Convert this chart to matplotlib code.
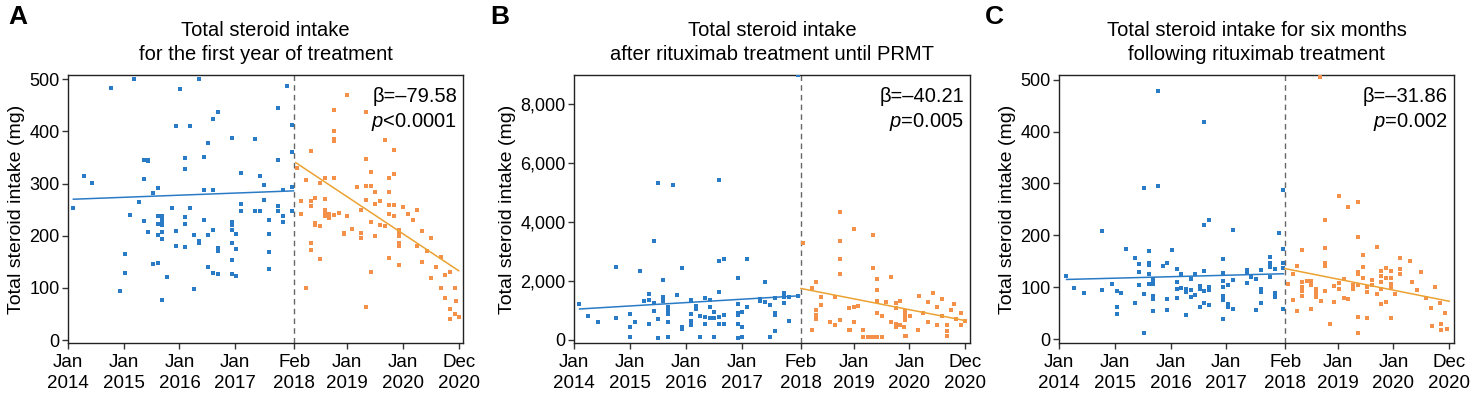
import matplotlib.pyplot as plt

plt.rcParams['font.family'] = ['Liberation Sans', 'DejaVu Sans']
plt.rcParams['mathtext.fontset'] = 'custom'
plt.rcParams['mathtext.it'] = 'Liberation Sans:italic'
plt.rcParams['mathtext.rm'] = 'Liberation Sans'

# x = months since Jan 2014 (interruption ~ Feb 2018)
tick_pos = [0, 12, 24, 36, 48.7, 60, 72, 84]
tick_labels = ['Jan\n2014', 'Jan\n2015', 'Jan\n2016', 'Jan\n2017', 'Feb\n2018',
               'Jan\n2019', 'Jan\n2020', 'Dec\n2020']
break_x = 48.7

# ---- panel A ----
a_pre_x = [1.2, 3.4, 5.3, 9.2, 14.3, 11.3, 12.3, 12.3, 13.3, 15.3, 16.3, 16.3, 16.3, 17.3, 17.3,
           17.3, 18.3, 18.3, 19.3, 19.3, 19.3, 19.3, 19.3, 20.3, 20.3, 20.3, 20.3, 20.3, 20.3, 20.3,
           21.3, 22.3, 23.2, 23.2, 23.2, 24.2, 25.2, 25.2, 25.2, 25.2, 25.2, 26.2, 26.2, 27.2, 27.2,
           28.2, 28.2, 28.2, 29.2, 29.2, 29.2, 30.2, 30.2, 30.2, 31.2, 31.2, 31.2, 31.2, 32.2, 32.2,
           32.2, 32.2, 35.2, 35.2, 35.2, 35.2, 35.2, 35.2, 35.2, 36.2, 36.2, 36.2, 37.2, 37.2, 37.2,
           40.2, 41.2, 40.2, 41.2, 42.2, 42.2, 43.2, 43.2, 43.2, 43.2, 45.2, 45.2, 45.2, 45.2, 46.2,
           46.2, 46.2, 47.2, 48.2, 48.2, 48.2, 48.2]
a_pre_y = [253, 315, 302, 483, 501, 94, 165, 128, 239, 265, 346, 309, 229, 346, 343,
           207, 282, 146, 292, 238, 222, 202, 147, 237, 230, 225, 220, 207, 193, 77,
           121, 253, 411, 209, 180, 481, 349, 327, 236, 223, 179, 411, 253, 202, 98,
           500, 190, 186, 350, 288, 230, 378, 201, 141, 423, 288, 211, 129, 437, 176,
           170, 127, 387, 227, 221, 211, 187, 153, 127, 204, 174, 123, 321, 261, 247,
           386, 314, 248, 248, 298, 269, 230, 203, 169, 136, 444, 345, 257, 247, 288,
           237, 227, 486, 412, 361, 294, 248]
a_post_x = [49.2, 50.2, 50.2, 51.2, 51.2, 52.2, 52.2, 52.2, 52.2, 52.2, 53.2, 53.2, 53.2, 54.2,
            54.2, 54.2, 55.2, 55.2, 55.2, 55.2, 55.2, 56.2, 56.2, 57.2, 57.2, 57.2, 57.2, 57.2,
            57.2, 58.2, 59.3, 59.3, 60.1, 60.1, 61.1, 62.1, 63.1, 63.1, 63.1, 64.1, 64.1, 64.1,
            64.1, 64.1, 65.1, 65.1, 65.1, 65.1, 66.1, 66.1, 66.1, 67.1, 67.1, 68.1, 68.1, 69.1,
            69.1, 69.1, 69.1, 69.1, 70.1, 70.1, 70.1, 70.1, 71.1, 71.1, 71.1, 71.1, 71.1, 71.1,
            72.1, 73.1, 74.1, 75.1, 75.1, 76.1, 76.1, 77.1, 78.1, 78.1, 79.1, 80.1, 80.1, 81.1,
            81.1, 82.1, 82.1, 82.1, 83.1, 83.1, 84.0, 83.5]
a_post_y = [329, 266, 242, 307, 99, 363, 266, 257, 186, 173, 272, 224, 220, 301,
            218, 156, 310, 270, 250, 245, 237, 242, 234, 441, 401, 385, 382, 310,
            240, 243, 206, 203, 469, 237, 212, 294, 250, 205, 195, 438, 347, 296,
            269, 64, 323, 296, 227, 131, 283, 260, 200, 266, 221, 384, 219, 310,
            283, 259, 242, 157, 365, 318, 259, 237, 211, 205, 199, 187, 181, 144,
            256, 242, 230, 180, 250, 150, 210, 170, 120, 195, 140, 100, 160, 125,
            80, 60, 130, 40, 100, 50, 45, 75]
a_pre_fit = [(1.2, 48.5), (270, 286)]
a_post_fit = [(49.0, 84.0), (340, 133)]

# ---- panel B ----
b_pre_x = [1.1, 3.1, 5.1, 9.1, 9.1, 12.1, 12.1, 12.1, 13.1, 14.1, 15.1, 16.1, 16.1, 16.1, 17.1,
           17.1, 17.1, 18.1, 18.1, 18.1, 19.1, 19.1, 19.1, 20.2, 20.2, 20.2, 20.2, 20.2, 21.2,
           22.2, 23.2, 23.2, 23.2, 25.1, 25.1, 25.1, 25.1, 26.1, 26.1, 27.1, 27.1, 28.1, 28.1,
           28.1, 29.1, 29.1, 29.1, 30.1, 30.1, 30.1, 31.1, 31.1, 31.1, 31.1, 31.1, 32.1, 32.1,
           32.1, 35.1, 35.1, 35.1, 35.1, 35.1, 35.1, 36.1, 36.1, 36.1, 37.1, 37.1, 40.0, 40.0,
           41.0, 41.0, 42.0, 42.0, 43.1, 43.1, 43.1, 43.1, 45.1, 45.1, 45.1, 46.1, 46.1, 48.1,
           48.0]
b_pre_y = [1225, 798, 619, 2465, 753, 888, 427, 80, 607, 2341, 1314, 1561, 1337, 528, 3360,
           1247, 966, 5340, 708, 57, 2022, 1449, 1314, 1100, 1000, 888, 595, 80, 5261,
           1516, 2443, 450, 380, 1359, 866, 640, 500, 1157, 1044, 820, 80, 1404, 775,
           550, 1359, 1112, 730, 933, 730, 80, 5430, 2690, 1630, 775, 540, 2735, 843,
           540, 2083, 1202, 910, 843, 528, 57, 955, 427, 100, 2735, 1100, 1370, 1325,
           1966, 1292, 1168, 100, 1416, 900, 843, 281, 1606, 1449, 1258, 1438, 652, 1483,
           8990]
b_post_x = [49.1, 51.0, 51.0, 52.0, 52.0, 52.0, 52.0, 53.1, 53.1, 55.0, 56.0, 56.0, 57.0, 57.0,
            57.0, 57.0, 57.0, 59.0, 59.0, 60.0, 60.0, 60.0, 61.0, 62.0, 64.1, 64.1, 64.1, 65.0,
            65.0, 65.0, 65.0, 65.0, 66.0, 66.0, 67.0, 68.0, 68.0, 69.0, 69.0, 69.0, 69.0, 70.0,
            70.0, 71.1, 71.1, 71.1, 71.1, 71.1, 72.1, 62.0, 63.0, 64.0, 51.1, 59.2, 70.9, 71.2,
            73.9, 74.0, 75.0, 76.0, 76.0, 77.0, 78.0, 78.0, 79.0, 79.0, 80.1, 80.1, 80.1, 81.0,
            81.5, 82.0, 83.0, 83.0, 84.0]
b_post_y = [3293, 1743, 337, 1966, 1000, 843, 708, 1438, 1180, 620, 485, 1438, 4326, 3348,
            2752, 2247, 664, 1090, 348, 3766, 1123, 620, 1157, 337, 3562, 2449, 100, 2078,
            1697, 1325, 921, 100, 809, 100, 1292, 2134, 596, 1247, 1090, 528, 440, 1325,
            506, 978, 888, 753, 664, 135, 798, 100, 100, 100, 317, 337, 418, 115,
            337, 1500, 900, 1300, 600, 1600, 1100, 500, 1400, 800, 485, 283, 115, 1000,
            1200, 700, 900, 500, 650]
b_pre_fit = [(1.2, 48.4), (1046, 1495)]
b_post_fit = [(48.7, 84.0), (1743, 650)]

# ---- panel C ----
c_pre_x = [1.4, 3.3, 5.3, 9.3, 9.3, 11.4, 12.4, 12.4, 12.4, 13.4, 14.4, 16.3, 16.3, 17.3, 17.3,
           17.3, 18.3, 18.3, 18.3, 19.3, 19.3, 19.3, 19.3, 19.3, 20.3, 20.3, 20.3, 20.3, 20.3,
           20.3, 21.3, 21.3, 22.3, 23.3, 23.3, 23.3, 24.4, 25.3, 25.3, 25.3, 25.3, 26.3, 26.3,
           27.3, 27.3, 27.3, 28.3, 28.3, 28.3, 29.3, 29.3, 30.3, 30.3, 30.3, 31.3, 31.3, 31.3,
           31.3, 31.3, 32.3, 32.3, 32.3, 32.3, 35.3, 35.3, 35.3, 35.3, 35.3, 35.3, 35.3, 36.4,
           36.4, 36.4, 37.4, 37.4, 37.4, 40.4, 40.4, 40.4, 41.4, 42.4, 42.4, 43.4, 43.4, 43.4,
           43.4, 45.4, 45.4, 45.4, 45.4, 46.4, 46.4, 46.4, 47.4, 48.3, 48.3, 48.3, 48.3, 48.3]
c_pre_y = [122, 99, 88, 208, 94, 107, 92, 61, 49, 88, 174, 157, 69, 144, 129,
           105, 292, 87, 11, 169, 146, 142, 126, 106, 115, 112, 107, 83, 78,
           54, 479, 295, 140, 146, 78, 56, 171, 135, 110, 97, 79, 125, 99,
           96, 91, 47, 94, 115, 81, 125, 85, 102, 97, 62, 418, 219, 132,
           93, 70, 229, 101, 94, 65, 155, 128, 112, 101, 83, 76, 38, 104,
           67, 61, 210, 113, 58, 133, 130, 109, 119, 116, 56, 133, 96, 91,
           69, 158, 146, 139, 120, 135, 89, 81, 205, 287, 173, 147, 138, 59]
c_post_x = [56.2, 49.3, 50.3, 50.3, 51.3, 51.3, 52.3, 52.3, 52.3, 52.3, 52.3, 53.3, 54.3, 54.3,
            54.3, 55.3, 55.3, 55.3, 55.3, 56.3, 57.3, 57.3, 57.3, 57.3, 57.3, 58.3, 59.3, 59.3,
            60.3, 60.3, 60.3, 61.3, 61.3, 62.3, 62.3, 63.3, 63.3, 64.4, 64.4, 64.4, 64.4, 64.4,
            64.4, 64.4, 65.4, 65.4, 65.4, 66.4, 66.4, 66.4, 67.4, 67.4, 68.4, 68.4, 69.4, 69.4,
            69.4, 69.4, 69.4, 70.4, 70.4, 70.4, 71.4, 71.4, 71.4, 71.4, 71.4, 72.4, 73.4, 73.4,
            73.4, 75.5, 76.0, 77.0, 78.0, 79.0, 80.0, 80.2, 81.0, 82.0, 82.3, 82.3, 83.5, 83.0]
c_post_y = [506, 106, 125, 75, 140, 54, 171, 110, 101, 92, 83, 112, 112, 105,
            58, 97, 92, 87, 81, 73, 230, 176, 147, 140, 93, 30, 103, 72,
            275, 108, 96, 115, 79, 254, 78, 104, 97, 265, 197, 129, 125, 104,
            43, 11, 163, 139, 117, 101, 91, 40, 113, 104, 177, 87, 131, 121,
            110, 97, 67, 138, 117, 72, 131, 117, 107, 101, 40, 87, 156, 136,
            125, 150, 110, 95, 130, 80, 60, 25, 100, 70, 17, 30, 19, 50]
c_pre_fit = [(1.6, 48.3), (115, 126)]
c_post_fit = [(48.6, 84.0), (136, 73)]

BLUE = '#2a7bc5'
ORANGE = '#f3904a'
ORANGE_LINE = '#eba232'


def draw_panel(ax, pre_x, pre_y, post_x, post_y, pre_fit, post_fit, ylim, yticks, ylabels,
               title, beta, ptxt):
    ax.scatter(pre_x, pre_y, s=5, marker='s', color=BLUE, linewidths=0, zorder=3)
    ax.scatter(post_x, post_y, s=5, marker='s', color=ORANGE, linewidths=0, zorder=3)
    ax.plot(pre_fit[0], pre_fit[1], color=BLUE, lw=1.1, zorder=4)
    ax.plot(post_fit[0], post_fit[1], color=ORANGE_LINE, lw=1.1, zorder=4)
    ax.axvline(break_x, color='#666666', ls=(0, (4, 3)), lw=1.0, zorder=2)
    ax.set_xlim(0, 85)
    ax.set_ylim(*ylim)
    ax.set_xticks(tick_pos)
    ax.set_xticklabels(tick_labels, fontsize=13.5, linespacing=1.25)
    ax.set_yticks(yticks)
    ax.set_yticklabels(ylabels, fontsize=13)
    ax.tick_params(direction='out', length=4, width=1, color='#333333', pad=2)
    ax.tick_params(axis='x', pad=4)
    for sp in ax.spines.values():
        sp.set_linewidth(1.0)
        sp.set_color('#222222')
    ax.set_ylabel('Total steroid intake (mg)', fontsize=14, labelpad=3)
    ax.set_title(title, fontsize=14.5, linespacing=1.3, pad=11)
    ax.text(0.985, 0.955, beta + '\n' + ptxt, transform=ax.transAxes, ha='right', va='top',
            fontsize=14.5, linespacing=1.3)


def main():
    fig = plt.figure(figsize=(14.7, 3.93), dpi=100)
    h0, hh = 0.1265, 0.6827
    ax_a = fig.add_axes([0.0461, h0, 0.2691, hh])
    ax_b = fig.add_axes([0.3905, h0, 0.2694, hh])
    ax_c = fig.add_axes([0.7205, h0, 0.2685, hh])

    draw_panel(ax_a, a_pre_x, a_pre_y, a_post_x, a_post_y, a_pre_fit, a_post_fit,
               (-6, 508), [0, 100, 200, 300, 400, 500], ['0', '100', '200', '300', '400', '500'],
               'Total steroid intake\nfor the first year of treatment',
               'β=–79.58', '$p$<0.0001')
    draw_panel(ax_b, b_pre_x, b_pre_y, b_post_x, b_post_y, b_pre_fit, b_post_fit,
               (-120, 9000), [0, 2000, 4000, 6000, 8000], ['0', '2,000', '4,000', '6,000', '8,000'],
               'Total steroid intake\nafter rituximab treatment until PRMT',
               'β=–40.21', '$p$=0.005')
    draw_panel(ax_c, c_pre_x, c_pre_y, c_post_x, c_post_y, c_pre_fit, c_post_fit,
               (-8, 509), [0, 100, 200, 300, 400, 500], ['0', '100', '200', '300', '400', '500'],
               'Total steroid intake for six months\nfollowing rituximab treatment',
               'β=–31.86', '$p$=0.002')

    # panel letters
    for letter, xpix in [('A', 8), ('B', 490), ('C', 985)]:
        fig.text(xpix / 1470, 1 - 17 / 393, letter, fontsize=19, fontweight='bold',
                 ha='left', va='center')

    fig.savefig('out.png', dpi=100)


if __name__ == '__main__':
    main()
